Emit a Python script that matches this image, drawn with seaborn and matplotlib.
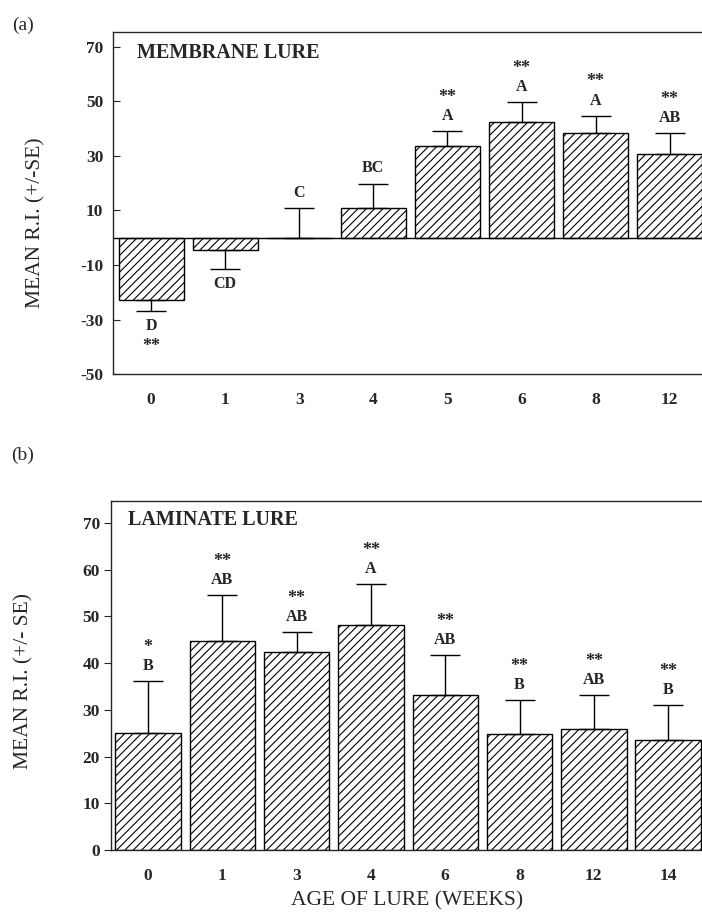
import numpy as np
import matplotlib
matplotlib.use("Agg")
import matplotlib.pyplot as plt
import seaborn as sns

# panel (a) - membrane lure
a_weeks = ["0", "1", "3", "4", "5", "6", "8", "12"]
a_mean = [-22.8, -4.6, 0.0, 10.9, 33.5, 42.4, 38.5, 30.6]
a_se = [3.9, 6.7, 10.9, 9.0, 5.5, 7.5, 6.3, 7.9]
a_groups = ["D", "CD", "C", "BC", "A", "A", "A", "AB"]
a_stars = ["**", "", "", "", "**", "**", "**", "**"]

# panel (b) - laminate lure
b_weeks = ["0", "1", "3", "4", "6", "8", "12", "14"]
b_mean = [25.0, 44.8, 42.4, 48.2, 33.1, 24.9, 25.9, 23.6]
b_se = [11.1, 9.8, 4.3, 8.7, 8.6, 7.2, 7.2, 7.5]
b_groups = ["B", "AB", "AB", "A", "AB", "B", "AB", "B"]
b_stars = ["*", "**", "**", "**", "**", "**", "**", "**"]

sns.set_style("ticks")
plt.rcParams["font.family"] = ["Liberation Serif", "DejaVu Serif"]
plt.rcParams["hatch.linewidth"] = 0.8
plt.rcParams["axes.linewidth"] = 1.0
plt.rcParams["axes.unicode_minus"] = False

fig = plt.figure(figsize=(7.02, 9.14), dpi=100)
ax_a = fig.add_axes([0.161, 0.5908, 0.839, 0.3742])
ax_b = fig.add_axes([0.158, 0.0700, 0.842, 0.3819])


def draw_panel(ax, weeks, mean, se, groups, stars, width):
    sns.barplot(x=weeks, y=mean, order=weeks, color="white", saturation=1,
                edgecolor="black", linewidth=1.0, width=width, ax=ax)
    for p in ax.patches:
        p.set_hatch("////")
    mean = np.asarray(mean)
    se = np.asarray(se)
    lower = np.where(mean < 0, se, 0)
    upper = np.where(mean < 0, 0, se)
    xs = np.arange(len(weeks))
    ax.errorbar(xs, mean, yerr=[lower, upper], fmt="none", ecolor="black",
                elinewidth=1.0, capsize=11, capthick=1.0)
    for i in range(len(weeks)):
        if mean[i] < 0:
            end = mean[i] - se[i]
            ax.annotate(groups[i], (i, end), xytext=(0, -14), textcoords="offset points",
                        ha="center", va="baseline", fontsize=11.5, fontweight="bold")
            ax.annotate(stars[i], (i, end), xytext=(0, -29), textcoords="offset points",
                        ha="center", va="baseline", fontsize=13, fontweight="bold")
        else:
            end = mean[i] + se[i]
            ax.annotate(groups[i], (i, end), xytext=(0, 8), textcoords="offset points",
                        ha="center", va="baseline", fontsize=11.5, fontweight="bold")
            ax.annotate(stars[i], (i, end), xytext=(0, 21), textcoords="offset points",
                        ha="center", va="baseline", fontsize=13, fontweight="bold")
    ax.spines["right"].set_visible(False)
    ax.tick_params(axis="x", length=0, pad=13, labelsize=12.5)
    for lab in ax.get_xticklabels() + ax.get_yticklabels():
        lab.set_fontweight("bold")


draw_panel(ax_a, a_weeks, a_mean, a_se, a_groups, a_stars, 0.877)
ax_a.axhline(0, color="black", lw=1.0)
ax_a.set_xlim(-0.513, 7.436)
ax_a.set_ylim(-50, 75.5)
ax_a.set_yticks([-50, -30, -10, 10, 30, 50, 70])
ax_a.tick_params(axis="y", direction="in", length=5, pad=7, labelsize=12.5)
for lab in ax_a.get_yticklabels():
    lab.set_fontweight("bold")
ax_a.text(0.041, 0.939, "MEMBRANE LURE", transform=ax_a.transAxes, ha="left",
          va="center", fontsize=14.5, fontweight="bold")
ax_a.set_ylabel("MEAN R.I. (+/-SE)", fontsize=15.5, va="center")
ax_a.yaxis.set_label_coords(36 / 702, 1 - 223 / 914, transform=fig.transFigure)

draw_panel(ax_b, b_weeks, b_mean, b_se, b_groups, b_stars, 0.88)
ax_b.set_xlim(-0.50, 7.456)
ax_b.set_ylim(0, 74.7)
ax_b.set_yticks([0, 10, 20, 30, 40, 50, 60, 70])
ax_b.tick_params(axis="y", direction="out", length=5, pad=3, labelsize=12.5)
for lab in ax_b.get_yticklabels():
    lab.set_fontweight("bold")
ax_b.text(0.029, 0.946, "LAMINATE LURE", transform=ax_b.transAxes, ha="left",
          va="center", fontsize=14.5, fontweight="bold")
ax_b.set_ylabel("MEAN R.I. (+/- SE)", fontsize=15.5, va="center")
ax_b.yaxis.set_label_coords(24 / 702, 1 - 681 / 914, transform=fig.transFigure)
ax_b.set_xlabel("AGE OF LURE (WEEKS)", fontsize=15.5, va="center")
ax_b.xaxis.set_label_coords(407 / 702, 1 - 901 / 914, transform=fig.transFigure)

fig.text(23 / 702, 1 - 25 / 914, "(a)", ha="center", va="center", fontsize=14)
fig.text(23 / 702, 1 - 455 / 914, "(b)", ha="center", va="center", fontsize=14)

fig.savefig("out.png", dpi=100)
